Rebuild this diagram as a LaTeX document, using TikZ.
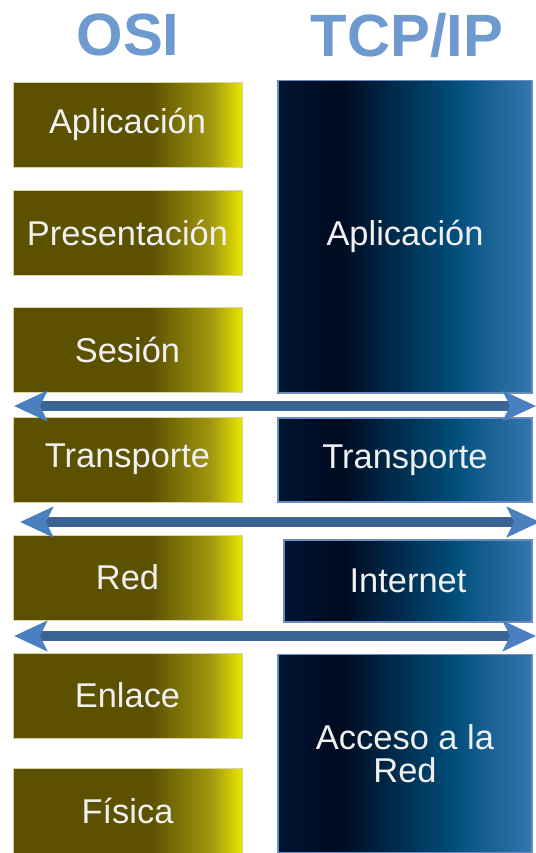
\documentclass[tikz,border=0pt]{standalone}
\usepackage{fontspec}
\setmainfont{Liberation Sans}
\usetikzlibrary{arrows.meta}

\definecolor{olvdark}{RGB}{92,81,0}
\definecolor{olvmid}{RGB}{160,150,15}
\definecolor{olvyel}{RGB}{232,228,0}
\definecolor{navyleft}{RGB}{0,20,50}
\definecolor{navydark}{RGB}{0,10,32}
\definecolor{navymid}{RGB}{0,76,120}
\definecolor{navyright}{RGB}{52,120,176}
\definecolor{titleblue}{RGB}{110,154,208}
\definecolor{arrshaft}{RGB}{58,100,148}
\definecolor{arrhead}{RGB}{74,128,192}
\definecolor{tcpedge}{RGB}{106,140,192}

\pgfdeclarehorizontalshading{osishade}{100bp}{color(0bp)=(olvdark); color(25bp)=(olvdark); color(55bp)=(olvdark); color(68bp)=(olvmid); color(75bp)=(olvyel); color(100bp)=(olvyel)}
\pgfdeclarehorizontalshading{tcpshade}{100bp}{color(0bp)=(navyleft); color(25bp)=(navyleft); color(37bp)=(navydark); color(59bp)=(navymid); color(75bp)=(navyright); color(100bp)=(navyright)}

\begin{document}
\begin{tikzpicture}[x=0.02cm, y=-0.02cm,
    osibox/.style={shading=osishade, draw=olvmid!40!white, line width=0.3pt,
        minimum width=4.58cm, minimum height=1.7cm, inner sep=0pt,
        text=white!94!black, font=\fontsize{19.6}{22}\selectfont},
    tcpbox/.style={shading=tcpshade, draw=tcpedge, line width=0.6pt,
        minimum width=5.08cm, inner sep=0pt, align=center,
        text=white!94!black, font=\fontsize{19.6}{19}\selectfont},
    title/.style={text=titleblue, font=\fontsize{34}{36}\selectfont\bfseries},
    layerarrow/.style={draw=arrshaft, line width=0.2cm,
        {Stealth[length=0.66cm, width=0.6cm, inset=0.14cm, color=arrhead]}-{Stealth[length=0.66cm, width=0.6cm, inset=0.14cm, color=arrhead]}}]

    \useasboundingbox (0,0) rectangle (536,853);

    \node[title] (osi) at (128,35) {OSI};
    \node[title] (tcp) at (407,35) {TCP/IP};

    % modelo OSI
    \foreach \n/\y/\t in {1/124.5/Aplicación, 2/232.5/Presentación, 3/350/Sesión,
                          4/459.5/Transporte, 5/577.5/Red, 6/695.5/Enlace, 7/810.5/Física} {
        \node[osibox] (osi\n) at (127.5,\y) {\t};
    }

    % modelo TCP/IP
    \node[tcpbox, minimum height=6.26cm] (tcp1) at (405,236.5) {Aplicación};
    \node[tcpbox, minimum height=1.68cm] (tcp2) at (405,460) {Transporte};
    \node[tcpbox, minimum height=1.64cm, minimum width=4.96cm] (tcp3) at (408,581) {Internet};
    \node[tcpbox, minimum height=3.98cm] (tcp4) at (405,753.5) {Acceso a la\\Red};

    \coordinate (a1l) at (14,406);
    \coordinate (a1r) at (536,406);
    \coordinate (a2l) at (20,522);
    \coordinate (a2r) at (540,522);
    \coordinate (a3l) at (14,636);
    \coordinate (a3r) at (536,636);

    \draw[layerarrow] (a1l) -- (a1r);
    \draw[layerarrow] (a2l) -- (a2r);
    \draw[layerarrow] (a3l) -- (a3r);

\end{tikzpicture}
\end{document}
